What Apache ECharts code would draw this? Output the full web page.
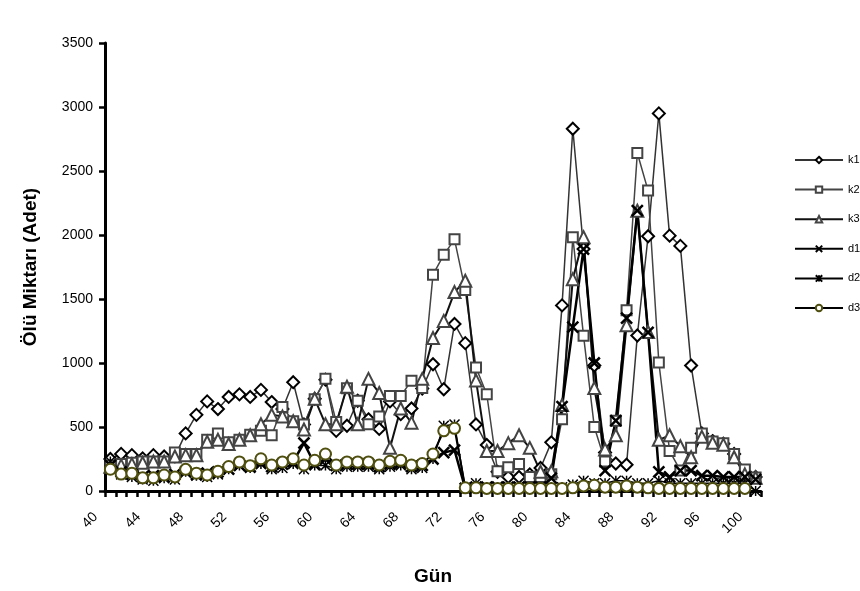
<!DOCTYPE html>
<html>
<head>
<meta charset="utf-8">
<script src="https://cdn.jsdelivr.net/npm/echarts@6/dist/echarts.min.js"></script>
<style>html,body{margin:0;padding:0;background:#fff}#c{width:860px;height:591px}</style>
</head>
<body>
<div id="c"></div>
<script>
const days = [];
for (let d = 40; d <= 100; d++) days.push(String(d));

const k1 = [250,290,280,255,280,270,270,450,595,700,640,735,755,735,790,695,640,850,520,720,
870,470,510,705,560,485,700,600,645,800,990,795,1305,1155,520,360,150,110,110,130,
180,380,1450,2830,1890,980,300,215,205,1215,1990,2950,1995,1915,980,450,390,370,290,150,110];
const k2 = [200,210,220,230,230,230,300,290,290,400,450,380,400,440,470,435,656,545,520,717,
876,540,803,705,522,583,742,742,862,805,1690,1845,1966,1570,965,756,155,185,210,110,
110,130,561,1983,1212,500,230,549,1412,2640,2347,1004,313,160,337,450,386,374,290,167,105];
const k3 = [190,200,210,220,230,230,270,280,280,385,400,367,400,435,522,595,583,545,480,720,
522,522,815,522,876,766,337,644,534,876,1195,1329,1554,1643,864,313,313,374,435,337,
150,154,671,1655,1983,804,325,435,1295,2190,1242,400,435,350,264,423,376,362,264,130,103];
const d1 = [200,150,130,110,120,110,130,150,130,140,150,170,200,190,220,190,210,230,375,210,
250,200,210,210,210,190,210,220,190,200,250,300,320,20,30,30,30,30,30,30,
30,100,660,1280,1890,1000,160,550,1350,2190,1240,150,110,160,160,120,120,110,110,110,90];
const d2 = [230,130,110,90,80,100,90,150,120,110,130,170,200,180,210,170,180,210,170,200,
200,170,190,190,190,170,190,200,170,180,250,510,520,20,60,30,30,30,30,30,
30,30,30,50,80,60,60,80,80,60,60,80,60,60,60,60,60,60,60,60,0];
const d3 = [170,132,139,103,103,125,110,169,139,125,154,191,227,198,252,203,227,252,203,240,
289,203,227,227,227,203,232,240,203,215,289,470,490,25,25,20,20,20,20,20,
20,20,20,25,40,45,30,30,40,30,25,20,20,20,20,20,20,20,20,20,null];
const yTicks = {min: 0, max: 3500, interval: 500};

const FONT = '"Liberation Sans", Arial, sans-serif';
const X_PATH = 'path://M0 0L10 10M10 0L0 10';
const AST_PATH = 'path://M0 0L10 10M10 0L0 10M5 0L5 10';

function mk(name, data, symbol, size, item, line) {
  return {
    name, type: 'line', data, symbol, symbolSize: size, showAllSymbol: true,
    connectNulls: false, itemStyle: item, lineStyle: line,
    emphasis: {disabled: true}, animation: false
  };
}

const chart = echarts.init(document.getElementById('c'), null, {renderer: 'canvas'});
chart.setOption({
  animation: false,
  backgroundColor: '#fff',
  textStyle: {fontFamily: FONT, color: '#000'},
  grid: {left: 105, right: 99, top: 43, bottom: 100, containLabel: false},
  legend: {
    orient: 'vertical', left: 789, top: 148, itemWidth: 48, itemHeight: 8, itemGap: 15.6,
    textStyle: {fontSize: 11, color: '#000', fontFamily: FONT, lineHeight: 14},
    data: ['k1','k2','k3','d1','d2','d3']
  },
  xAxis: {
    type: 'category', data: days, boundaryGap: true,
    name: 'Gün', nameLocation: 'middle', nameGap: 76,
    nameTextStyle: {fontSize: 19, fontWeight: 'bold', color: '#000', fontFamily: FONT},
    axisLine: {show: true, lineStyle: {color: '#000', width: 3}},
    axisTick: {show: true, interval: 0, alignWithLabel: false, length: 6, lineStyle: {color: '#000', width: 2.5}},
    axisLabel: {interval: 3, rotate: 45, fontSize: 14, color: '#000', margin: 9,
      padding: [0, 21, 0, 0], fontFamily: FONT},
    splitLine: {show: false}
  },
  yAxis: {
    type: 'value', min: yTicks.min, max: yTicks.max, interval: yTicks.interval,
    name: 'Ölü Miktarı (Adet)', nameLocation: 'middle', nameGap: 65, nameRotate: 90,
    nameTextStyle: {fontSize: 19, fontWeight: 'bold', color: '#000', fontFamily: FONT},
    axisLine: {show: true, lineStyle: {color: '#000', width: 3}},
    axisTick: {show: true, inside: false, length: 6, lineStyle: {color: '#000', width: 2.5}},
    axisLabel: {fontSize: 14, color: '#000', margin: 12, fontFamily: FONT,
      formatter: v => String(v)},
    splitLine: {show: false}
  },
  series: [
    mk('k1', k1, 'diamond', 12, {color: '#fff', borderColor: '#000', borderWidth: 2}, {color: '#333', width: 1.5}),
    mk('k2', k2, 'rect', 10, {color: '#fff', borderColor: '#444', borderWidth: 2}, {color: '#444', width: 1.5}),
    mk('k3', k3, 'triangle', 12, {color: '#fff', borderColor: '#444', borderWidth: 2}, {color: '#111', width: 2}),
    mk('d1', d1, X_PATH, 11, {color: '#000', borderColor: '#000', borderWidth: 2.5}, {color: '#000', width: 2.5}),
    mk('d2', d2, AST_PATH, 10, {color: '#000', borderColor: '#000', borderWidth: 1.5}, {color: '#000', width: 1.5}),
    mk('d3', d3, 'circle', 11, {color: '#fff', borderColor: '#4f4f10', borderWidth: 2}, {color: '#000', width: 2})
  ]
});
</script>
</body>
</html>
